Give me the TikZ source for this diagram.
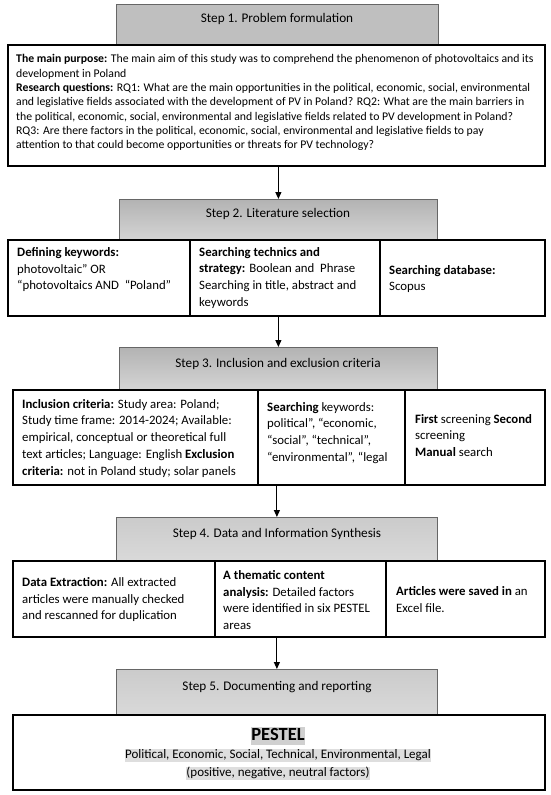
\documentclass[tikz,border=0pt]{standalone}
\usepackage{fontspec}
\setmainfont{Carlito}
\usetikzlibrary{arrows.meta}
\definecolor{hA}{HTML}{BFBFBF}
\definecolor{hTop}{HTML}{B3B3B3}
\definecolor{hBot}{HTML}{D4D4D4}
\definecolor{hTopL}{HTML}{CBCBCB}
\definecolor{hBotL}{HTML}{D9D9D9}
\definecolor{hlA}{HTML}{D0D0D0}
\definecolor{hlB}{HTML}{DEDEDE}
\begin{document}
\begin{tikzpicture}[x=1pt,y=-1pt,
  hdr/.style={draw=black!60, line width=0.8pt, inner sep=0pt, anchor=north west},
  hdrtxt/.style={inner sep=0pt, font=\fontsize{13.2}{15}\selectfont},
  frame/.style={draw=black, line width=1.5pt, fill=white, inner sep=0pt, anchor=north west},
  txt/.style={inner sep=0pt, anchor=north west, align=left, font=\fontsize{12.8}{16.8}\selectfont},
  txtA/.style={inner sep=0pt, anchor=north west, align=left, font=\fontsize{11.75}{14.3}\selectfont},
  arr/.style={-{Triangle[length=7pt,width=6pt]}, line width=1.1pt, draw=black},
  hl/.style={inner sep=0pt, anchor=base}
]
\useasboundingbox[fill=white] (0,0) rectangle (550,795);

% ---------- Step 1
\node[hdr, fill=hA, minimum width=322, minimum height=40] (h1) at (116,4) {};
\node[hdrtxt] (h1t) at (277,19) {Step 1. Problem formulation};
\node[frame, minimum width=537, minimum height=121] (b1) at (7,44) {};
\node[txtA] (t1) at (16,54.5) {\textbf{The main purpose:} The main aim of this study was to comprehend the phenomenon of photovoltaics and its\\
development in Poland\\
\textbf{Research questions:} RQ1: What are the main opportunities in the political, economic, social, environmental\\
and legislative fields associated with the development of PV in Poland? RQ2: What are the main barriers in\\
the political, economic, social, environmental and legislative fields related to PV development in Poland?\\
RQ3: Are there factors in the political, economic, social, environmental and legislative fields to pay\\
attention to that could become opportunities or threats for PV technology?};

% ---------- Step 2
\node[hdr, top color=hTop, bottom color=hBot, minimum width=318, minimum height=40] (h2) at (119,199) {};
\node[hdrtxt] (h2t) at (278,214) {Step 2. Literature selection};
\node[frame, minimum width=182, minimum height=76] (c2a) at (7,239) {};
\node[frame, minimum width=190, minimum height=76] (c2b) at (189,239) {};
\node[frame, minimum width=165, minimum height=76] (c2c) at (379,239) {};
\node[txt] (t2a) at (17,247) {\textbf{Defining keywords:}\\ photovoltaic” OR\\ “photovoltaics AND\ \ “Poland”};
\node[txt] (t2b) at (199,247) {\textbf{Searching technics and}\\ \textbf{strategy:} Boolean and\ \ Phrase\\ Searching in title, abstract and\\ keywords};
\node[txt] (t2c) at (389,265) {\textbf{Searching database:}\\ Scopus};

% ---------- Step 3
\node[hdr, top color=hTop, bottom color=hBot, minimum width=318, minimum height=42] (h3) at (119,347) {};
\node[hdrtxt] (h3t) at (278,364) {Step 3. Inclusion and exclusion criteria};
\node[frame, minimum width=245, minimum height=95] (c3a) at (12,389) {};
\node[frame, minimum width=147, minimum height=95] (c3b) at (257,389) {};
\node[frame, minimum width=140, minimum height=95] (c3c) at (404,389) {};
\node[txt] (t3a) at (22,399) {\textbf{Inclusion criteria:} Study area: Poland;\\ Study time frame: 2014-2024; Available:\\ empirical, conceptual or theoretical full\\ text articles; Language: English \textbf{Exclusion}\\ \textbf{criteria:} not in Poland study; solar panels};
\node[txt] (t3b) at (267,402) {\textbf{Searching} keywords:\\ political”, “economic,\\ “social”, “technical”,\\ “environmental”, “legal};
\node[txt] (t3c) at (415,414) {\textbf{First} screening \textbf{Second}\\ screening\\ \textbf{Manual} search};

% ---------- Step 4
\node[hdr, top color=hTopL, bottom color=hBotL, minimum width=321, minimum height=43] (h4) at (116,517) {};
\node[hdrtxt] (h4t) at (277,534) {Step 4. Data and Information Synthesis};
\node[frame, minimum width=202, minimum height=76] (c4a) at (12,560) {};
\node[frame, minimum width=171, minimum height=76] (c4b) at (214,560) {};
\node[frame, minimum width=159, minimum height=76] (c4c) at (385,560) {};
\node[txt] (t4a) at (22,577) {\textbf{Data Extraction:} All extracted\\ articles were manually checked\\ and rescanned for duplication};
\node[txt] (t4b) at (223,570) {\textbf{A thematic content}\\ \textbf{analysis:} Detailed factors\\ were identified in six PESTEL\\ areas};
\node[txt] (t4c) at (396,586) {\textbf{Articles were saved in} an\\ Excel file.};

% ---------- Step 5
\node[hdr, top color=hTopL, bottom color=hBotL, minimum width=321, minimum height=45] (h5) at (116,669) {};
\node[hdrtxt] (h5t) at (277,687) {Step 5. Documenting and reporting};
\node[frame, minimum width=532, minimum height=75] (b5) at (12,714) {};
\node[hl, fill=hlA, text height=13.5pt, text depth=5pt, font=\bfseries\fontsize{18.5}{20}\selectfont] (p1) at (278,740) {PESTEL};
\node[hl, fill=hlB, text height=10pt, text depth=3.8pt, font=\fontsize{13}{15}\selectfont] (p2) at (278,758.5) {Political, Economic, Social, Technical, Environmental, Legal};
\node[hl, fill=hlB, text height=10pt, text depth=3.8pt, font=\fontsize{13}{15}\selectfont] (p3) at (278,776.5) {(positive, negative, neutral factors)};

% ---------- Arrows
\draw[arr] (b1.south -| h2.north) -- (h2.north);
\draw[arr] (c2b.south -| h3.north) -- (h3.north);
\draw[arr] (c3b.south -| h4.north) -- (h4.north);
\draw[arr] (c4b.south -| h5.north) -- (h5.north);
\end{tikzpicture}
\end{document}
